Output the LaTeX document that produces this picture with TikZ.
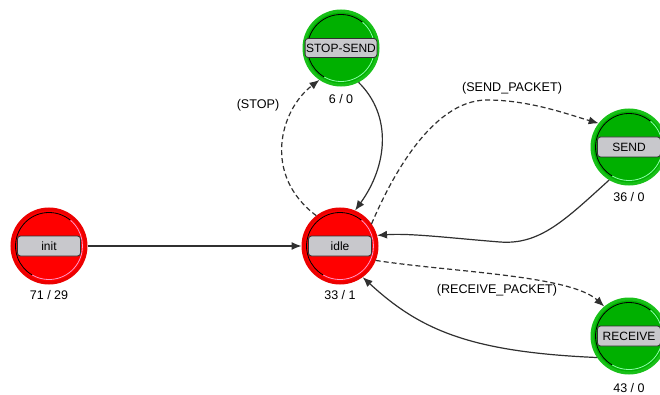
\documentclass[tikz,border=0pt]{standalone}
\usepackage{fontspec}
\setmainfont{Liberation Sans}
\usetikzlibrary{arrows.meta}

\definecolor{stred}{RGB}{255,0,0}
\definecolor{stredring}{RGB}{236,0,0}
\definecolor{stredlight}{RGB}{255,150,200}
\definecolor{stgreen}{RGB}{0,176,0}
\definecolor{stgreenring}{RGB}{24,192,24}
\definecolor{stgreenlight}{RGB}{140,255,170}
\definecolor{boxgray}{RGB}{200,200,204}
\definecolor{edgegray}{RGB}{48,48,48}

\tikzset{
  state/.style={circle, minimum size=74pt, inner sep=0pt, line width=3pt},
  redstate/.style={state, fill=stred, draw=stredring},
  greenstate/.style={state, fill=stgreen, draw=stgreenring},
  namebox/.style={draw=edgegray, fill=boxgray, rounded corners=3pt, line width=0.8pt,
    minimum width=63pt, minimum height=20pt, inner xsep=1pt, inner ysep=0pt,
    font=\fontsize{12}{12}\selectfont},
  count/.style={font=\fontsize{12.5}{12}\selectfont, inner sep=0pt},
  evlabel/.style={font=\fontsize{12.6}{12}\selectfont, inner sep=0pt},
  trans/.style={draw=edgegray, line width=1.2pt, -{Latex[length=10pt,width=8pt]}},
  event/.style={trans, dash pattern=on 5pt off 3pt}
}

% thin bevel ring inside a state circle: dark upper-left, light lower-right
\newcommand\statebevel[2]{%
  \draw[black, line width=0.8pt] (#1.center) ++(50:33.5) arc[start angle=50, end angle=240, radius=33.5];
  \draw[#2, line width=0.8pt] (#1.center) ++(240:33.5) arc[start angle=240, end angle=410, radius=33.5];
}

\begin{document}
\begin{tikzpicture}[x=1pt, y=1pt]
\useasboundingbox (0,0) rectangle (660,394);

% states
\node[redstate]   (init) at (49,148)  {};
\node[redstate]   (idle) at (340,148) {};
\node[greenstate] (stop) at (341,346) {};
\node[greenstate] (send) at (629,247) {};
\node[greenstate] (recv) at (629,58)  {};

\statebevel{init}{stredlight}
\statebevel{idle}{stredlight}
\statebevel{stop}{stgreenlight}
\statebevel{send}{stgreenlight}
\statebevel{recv}{stgreenlight}

% name boxes
\node[namebox] (init-name) at (init.center) {init};
\node[namebox] (idle-name) at (idle.center) {idle};
\node[namebox, minimum height=19pt] (stop-name) at (stop.center) {STOP-SEND};
\node[namebox] (send-name) at (send.center) {SEND};
\node[namebox] (recv-name) at (recv.center) {RECEIVE};

% visit counters
\node[count] (init-count) at (49,99)  {71 / 29};
\node[count] (idle-count) at (340,99) {33 / 1};
\node[count] (stop-count) at (341,295) {6 / 0};
\node[count] (send-count) at (629,197) {36 / 0};
\node[count] (recv-count) at (629,6)  {43 / 0};

% transitions
\draw[trans] (init) -- (idle);

\draw[event] (idle.128) .. controls (262,219) and (280,284) .. (stop.236);
\draw[trans] (stop.297) .. controls (392,279) and (388,229) .. (idle.67);

\draw[event] (idle.35) .. controls (388,209) and (430,294) .. (487,294)
                       .. controls (530,294) and (570,279) .. (send.142);
\draw[trans] (send.239) .. controls (565,174) and (540,149) .. (500,152)
                        .. controls (450,156) and (410,161) .. (idle.16);

\draw[event] (idle.338) .. controls (450,122) and (570,119) .. (recv.130);
\draw[trans] (recv.214) .. controls (470,42) and (420,64) .. (idle.306);

% event labels
\node[evlabel] (stop-ev) at (258,289) {(STOP)};
\node[evlabel] (send-ev) at (512,306) {(SEND\_PACKET)};
\node[evlabel] (recv-ev) at (497,104) {(RECEIVE\_PACKET)};
\end{tikzpicture}
\end{document}
